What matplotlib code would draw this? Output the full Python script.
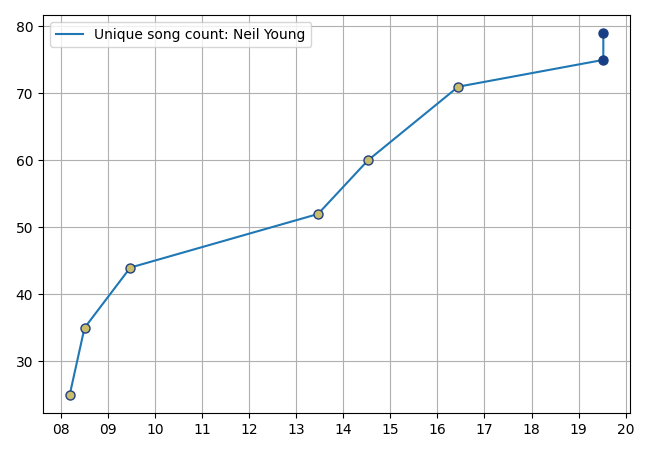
import datetime as dt
import matplotlib
matplotlib.use("Agg")
import matplotlib.pyplot as plt
import matplotlib.dates as mdates

fechas = [
    dt.date(2008, 3, 12),
    dt.date(2008, 7, 5),
    dt.date(2009, 6, 25),
    dt.date(2013, 6, 20),
    dt.date(2014, 7, 12),
    dt.date(2016, 6, 12),
    dt.date(2019, 7, 12),
    dt.date(2019, 7, 12),
]
canciones = [25, 35, 44, 52, 60, 71, 75, 79]
color_relleno = ["#c9bd6c"] * 6 + ["#173f88"] * 2

fig, ax = plt.subplots(figsize=(6.5, 4.5), dpi=100)
ax.plot(fechas, canciones, color="#1f77b4", label="Unique song count: Neil Young", zorder=2)
for f, c, col in zip(fechas, canciones, color_relleno):
    ax.plot(f, c, "o", markerfacecolor=col, markeredgecolor="#1f3f80",
            markersize=6.5, markeredgewidth=1, zorder=3)

ax.xaxis.set_major_locator(mdates.YearLocator())
ax.xaxis.set_major_formatter(mdates.DateFormatter("%y"))
ax.grid(True)
ax.legend(loc="upper left")

plt.subplots_adjust(left=43 / 650, right=630 / 650, top=1 - 15 / 450, bottom=1 - 413 / 450)
plt.savefig("out.png")
